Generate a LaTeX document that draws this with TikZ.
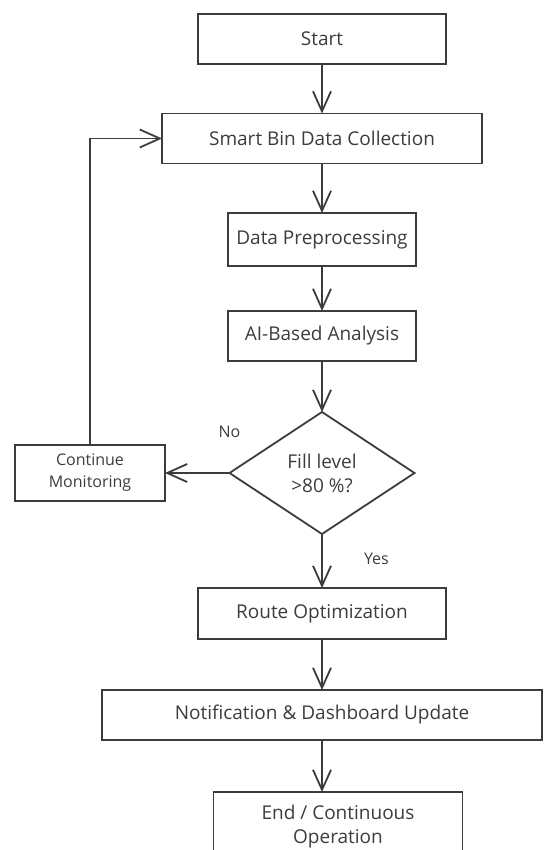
\documentclass[tikz,border=0pt]{standalone}
\usepackage{fontspec}
\setmainfont{Open Sans}
\usetikzlibrary{positioning,shapes.geometric,arrows.meta}
\definecolor{ink}{HTML}{3C3C3C}

\begin{document}
\begin{tikzpicture}
[x=1pt,y=1pt,
 every node/.style={draw=ink,line width=1.8pt,inner sep=0pt,outer sep=0pt,text=ink,align=center,font=\fontsize{19}{24}\selectfont},
 proc/.style={rectangle,minimum height=50pt},
 test/.style={diamond,minimum width=185pt,minimum height=122pt},
 lbl/.style={draw=none,font=\fontsize{16}{20}\selectfont},
 flow/.style={draw=ink,line width=1.8pt,-{Straight Barb[length=20pt,width=18pt,line width=1.8pt]}}]
\useasboundingbox (0,0) rectangle (543,-850);
\node[proc,minimum width=248pt] (start) at (322,-39)                            {Start};
\node[proc,minimum width=320pt] (collect) [on grid,below=99.5pt of start]       {Smart Bin Data Collection};
\node[proc,minimum width=188pt,minimum height=53pt] (prep) [on grid,below=101pt of collect] {Data Preprocessing};
\node[proc,minimum width=188pt] (analyse) [on grid,below=96.5pt of prep]        {AI-Based Analysis};
\node[test] (decide) [on grid,below=137pt of analyse]                           {Fill level\\>80 \%?};
\node[proc,minimum width=150pt,minimum height=56pt,font=\fontsize{16}{22}\selectfont] (monitor) [on grid,left=232pt of decide] {Continue\\Monitoring};
\node[proc,minimum width=248pt,minimum height=51pt] (route) [on grid,below=140.5pt of decide] {Route Optimization};
\node[proc,minimum width=440pt] (notify) [on grid,below=101.5pt of route]       {Notification \& Dashboard Update};
\node[proc,minimum width=249pt,minimum height=70pt] (finish) [on grid,below right=112pt and 16pt of notify] {End / Continuous\\Operation};
\node[lbl] (no)  [on grid,above=35pt of decide.west]                            {No};
\node[lbl] (yes) [on grid,below right=19pt and 42pt of decide.south]            {Yes};
\path (start)   edge[flow] (collect);
\path (collect) edge[flow] (prep);
\path (prep)    edge[flow] (analyse);
\path (analyse) edge[flow] (decide);
\path (decide)  edge[flow] (monitor);
\path (decide)  edge[flow] (route);
\path (route)   edge[flow] (notify);
\path (notify.south) edge[flow] (notify.south |- finish.north);
\draw[flow] (monitor.north) |- (collect.west);
\end{tikzpicture}
\end{document}
